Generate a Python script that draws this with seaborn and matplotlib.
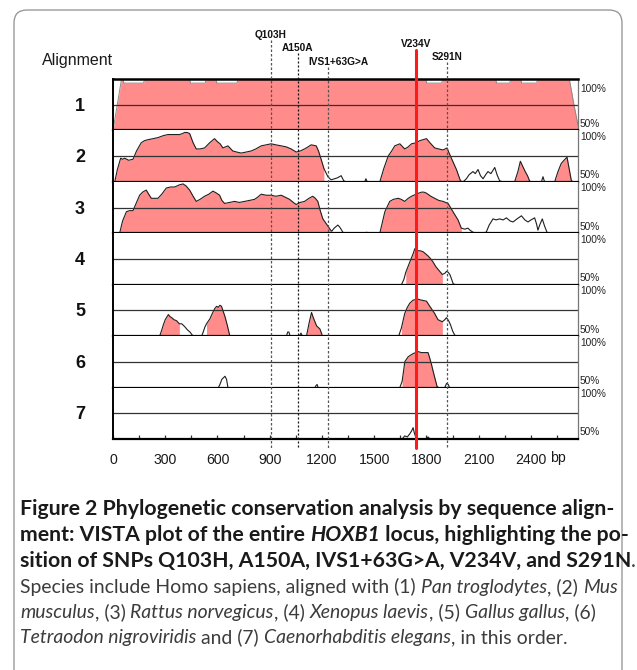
#!/usr/bin/env python3

import numpy as np
import matplotlib
matplotlib.use("Agg")
import matplotlib.pyplot as plt
import matplotlib.transforms as mtransforms
from matplotlib.lines import Line2D
from matplotlib.patches import FancyBboxPatch
from matplotlib.ticker import MultipleLocator
import seaborn as sns

# ---- data (bp position, % identity) ----
PANEL_LABELS = ["1", "2", "3", "4", "5", "6", "7"]

pos_1 = [0, 48, 57, 62, 176, 181, 440, 445, 530, 535, 591, 596, 712, 717,
         1796, 1801, 1888, 1893, 2197, 2202, 2278, 2283, 2341, 2346, 2433, 2438,
         2620, 2649, 2670]
val_1 = [50, 99, 100, 96, 96, 100, 100, 96, 96, 100, 100, 96, 96, 100,
         100, 96, 96, 100, 100, 96, 96, 100, 100, 96, 96, 100,
         100, 73, 55]

pos_2 = [0, 10, 25, 44, 55, 67, 90, 115, 135, 162, 180, 201, 230, 258, 290, 316, 350,
         382, 400, 411, 425, 440, 460, 478, 500, 526, 555, 583, 600, 615, 631, 660,
         688, 710, 736, 765, 793, 820, 851, 880, 908, 935, 966, 995, 1023, 1052, 1075,
         1100, 1120, 1138, 1167, 1180, 1195, 1211, 1234, 1252, 1272, 1290, 1310, 1325,
         1339, 1400, 1445, 1452, 1460, 1532, 1555, 1580, 1600, 1618, 1647, 1675, 1695,
         1714, 1740, 1761, 1780, 1800, 1820, 1847, 1870, 1895, 1918, 1930, 1943, 1972,
         1995, 2010, 2029, 2045, 2067, 2080, 2096, 2110, 2125, 2140, 2153, 2170, 2192,
         2205, 2220, 2240, 2306, 2325, 2339, 2350, 2367, 2380, 2392, 2400, 2460, 2469,
         2478, 2536, 2555, 2574, 2590, 2607, 2620, 2632, 2645, 2670]
val_2 = [50, 50, 62, 73, 72, 73, 71, 72, 80, 88, 90, 91, 92, 93, 95, 96, 96,
         96, 97, 98, 98, 97, 88, 82, 82, 83, 88, 92, 89, 87, 83, 85,
         80, 79, 78, 79, 80, 82, 85, 86, 87, 86, 85, 84, 82, 79, 80,
         82, 84, 86, 85, 80, 72, 63, 55, 52, 53, 54, 56, 51,
         50, 50, 50, 53, 50, 50, 63, 75, 80, 85, 87, 82, 84,
         87, 88, 90, 91, 92, 88, 83, 82, 81, 83, 78, 73, 62,
         51, 50, 53, 57, 60, 58, 62, 56, 53, 57, 60, 58, 64,
         57, 51, 50, 50, 60, 70, 66, 60, 56, 51, 50, 50, 55,
         50, 50, 60, 68, 71, 74, 62, 51, 50, 50]

pos_3 = [0, 38, 55, 77, 95, 115, 135, 153, 170, 191, 205, 220, 240, 258, 280, 306, 330,
         354, 380, 402, 420, 440, 460, 478, 500, 526, 550, 574, 595, 612, 625, 641,
         670, 698, 725, 756, 785, 813, 830, 851, 880, 908, 935, 966, 990, 1014, 1035,
         1052, 1075, 1100, 1125, 1147, 1162, 1176, 1190, 1205, 1234, 1250, 1256, 1270,
         1291, 1302, 1320, 1335, 1440, 1457, 1470, 1532, 1561, 1589, 1610, 1637, 1655,
         1675, 1695, 1714, 1740, 1771, 1785, 1800, 1825, 1847, 1870, 1895, 1924, 1952,
         1981, 2000, 2020, 2038, 2050, 2067, 2100, 2143, 2160, 2182, 2200, 2220, 2240,
         2259, 2280, 2297, 2320, 2345, 2365, 2383, 2400, 2421, 2432, 2440, 2450, 2465,
         2478, 2492, 2510, 2670]
val_3 = [50, 50, 62, 71, 72, 72, 80, 87, 90, 92, 88, 84, 84, 84, 88, 94, 95,
         95, 97, 98, 96, 92, 86, 81, 83, 86, 88, 91, 89, 87, 82, 79,
         80, 81, 80, 81, 82, 83, 85, 88, 87, 87, 86, 87, 85, 83, 80,
         78, 80, 81, 84, 86, 84, 81, 72, 64, 57, 53, 52, 55,
         58, 56, 51, 50, 50, 51, 50, 50, 71, 81, 83, 84, 83,
         81, 84, 86, 88, 90, 90, 89, 86, 84, 82, 81, 79, 71,
         63, 55, 54, 55, 53, 51, 50, 51, 58, 64, 63, 64, 63,
         65, 62, 61, 64, 67, 63, 61, 63, 65, 59, 53, 58, 64,
         57, 51, 50, 50]

pos_4 = [0, 1650, 1656, 1670, 1681, 1704, 1723, 1733, 1742, 1752, 1765, 1781, 1795,
         1809, 1825, 1838, 1852, 1866, 1891, 1905, 1915, 1925, 1934, 1945, 1953, 1965,
         2670]
val_4 = [50, 50, 50, 55, 62, 72, 80, 85, 84, 83, 83, 82, 80,
         78, 75, 72, 68, 65, 60, 61, 63, 62, 60, 55, 51, 50,
         50]

pos_5 = [0, 265, 270, 280, 289, 300, 318, 327, 337, 350, 365, 381, 395, 413, 428, 442,
         455, 470, 509, 518, 528, 537, 557, 570, 585, 595, 604, 614, 623, 633, 643, 657,
         671, 990, 996, 1003, 1010, 1017, 1070, 1079, 1088, 1111, 1125, 1140, 1150, 1169,
         1188, 1203, 1640, 1656, 1675, 1690, 1704, 1723, 1750, 1771, 1800, 1819, 1835,
         1847, 1866, 1891, 1905, 1915, 1927, 1938, 1950, 1962, 1975, 2670]
val_5 = [50, 50, 51, 56, 61, 66, 71, 69, 68, 66, 65, 62, 62, 59, 56, 54,
         51, 50, 50, 54, 59, 62, 67, 72, 77, 79, 78, 80, 79, 74, 69, 60,
         50, 50, 50, 54, 54, 50, 50, 53, 50, 50, 62, 73, 68, 60,
         57, 50, 50, 58, 72, 78, 82, 85, 86, 85, 84, 79, 75,
         72, 66, 64, 66, 68, 65, 61, 55, 51, 50, 50]

pos_6 = [0, 605, 614, 625, 643, 652, 660, 1160, 1166, 1172, 1178, 1640, 1647, 1660,
         1670, 1675, 1695, 1723, 1752, 1770, 1790, 1809, 1818, 1828, 1838, 1847, 1861,
         1870, 1905, 1915, 1925, 1932, 2670]
val_6 = [50, 50, 53, 58, 61, 58, 50, 50, 52, 53, 50, 50, 50, 56,
         68, 75, 80, 83, 85, 84, 84, 84, 79, 73, 66, 60, 51,
         50, 50, 54, 53, 50, 50]

pos_7 = [0, 1660, 1675, 1690, 1704, 1715, 1723, 1730, 1738, 1750, 1795, 1809, 1820, 2670]
val_7 = [50, 50, 53, 52, 55, 58, 61, 56, 52, 50, 50, 52, 50, 50]

# conserved regions that VISTA shades pink
fill_1 = [(0, 2670)]
fill_2 = [(0, 1211), (1532, 1995), (2306, 2392), (2536, 2632)]
fill_3 = [(38, 1250), (1532, 2000)]
fill_4 = [(1681, 1891)]
fill_5 = [(270, 381), (537, 671), (1111, 1203), (1645, 1891)]
fill_6 = [(1656, 1861)]
fill_7 = []

SNP_NAMES = ["Q103H", "A150A", "IVS1+63G>A", "V234V", "S291N"]
SNP_POS = [906, 1061, 1234, 1741, 1917]

X_TICKS = [0, 300, 600, 900, 1200, 1500, 1800, 2100, 2400]
X_MAX = 2670

CAPTION = [
    [("Figure 2 Phylogenetic conservation analysis by sequence align-", "bold", "normal")],
    [("ment: VISTA plot of the entire ", "bold", "normal"), ("HOXB1", "bold", "italic"),
     (" locus, highlighting the po-", "bold", "normal")],
    [("sition of SNPs Q103H, A150A, IVS1+63G>A, V234V, and S291N", "bold", "normal"),
     (".", "normal", "normal")],
    [("Species include Homo sapiens, aligned with (1) ", "normal", "normal"),
     ("Pan troglodytes", "normal", "italic"), (", (2) ", "normal", "normal"),
     ("Mus", "normal", "italic")],
    [("musculus", "normal", "italic"), (", (3) ", "normal", "normal"),
     ("Rattus norvegicus", "normal", "italic"), (", (4) ", "normal", "normal"),
     ("Xenopus laevis", "normal", "italic"), (", (5) ", "normal", "normal"),
     ("Gallus gallus", "normal", "italic"), (", (6)", "normal", "normal")],
    [("Tetraodon nigroviridis", "normal", "italic"), (" and (7) ", "normal", "normal"),
     ("Caenorhabditis elegans", "normal", "italic"), (", in this order.", "normal", "normal")],
]

W, H = 637, 670
PINK = "#ff8b8b"
ARIAL = "Liberation Sans"
CAP_FONT = "Lato"


def fy(y):
    # pixel row from top -> figure fraction
    return 1 - y / H


def text_width(fig, renderer, s, **kw):
    t = fig.text(0, 0, "|" + s + "|", **kw)
    w = t.get_window_extent(renderer).width
    t.remove()
    t = fig.text(0, 0, "||", **kw)
    w -= t.get_window_extent(renderer).width
    t.remove()
    return w


def draw_caption(fig):
    renderer = fig.canvas.get_renderer()

    def line_width(line, size):
        return sum(text_width(fig, renderer, s, fontsize=size, fontweight=wt,
                              fontstyle=st, family=CAP_FONT) for s, wt, st in line)

    # fit bold block to first line width, regular block to fourth line
    bold_size = 12 * 592 / line_width(CAPTION[0], 12)
    reg_size = 12 * 596 / line_width(CAPTION[3], 12)
    baselines = [515, 541, 567, 593, 618, 643]
    for i, line in enumerate(CAPTION):
        size = bold_size if i < 3 else reg_size
        x = 20.0
        for s, wt, st in line:
            color = "#1a1a1a" if wt == "bold" else "#3c3c3c"
            fig.text(x / W, fy(baselines[i]), s, fontsize=size, fontweight=wt,
                     fontstyle=st, family=CAP_FONT, color=color, va="baseline")
            x += text_width(fig, renderer, s, fontsize=size, fontweight=wt,
                            fontstyle=st, family=CAP_FONT)


def main():
    sns.set_style("white")
    plt.rcParams["font.family"] = [ARIAL, "DejaVu Sans"]

    fig = plt.figure(figsize=(W / 100, H / 100), dpi=100)
    gs = fig.add_gridspec(7, 1, left=113 / W, right=578 / W, top=fy(79),
                          bottom=fy(439), hspace=0)

    positions = [pos_1, pos_2, pos_3, pos_4, pos_5, pos_6, pos_7]
    values = [val_1, val_2, val_3, val_4, val_5, val_6, val_7]
    fills = [fill_1, fill_2, fill_3, fill_4, fill_5, fill_6, fill_7]

    axes = []
    for i in range(7):
        ax = fig.add_subplot(gs[i])
        axes.append(ax)
        x = np.array(positions[i], dtype=float)
        y = np.array(values[i], dtype=float)
        for a, b in fills[i]:
            mask = (x >= a) & (x <= b)
            ax.fill_between(x, 50, y, where=mask, color=PINK, lw=0, zorder=1)
        line_color = "#8a8a8a" if i == 0 else "#1f1f1f"
        sns.lineplot(x=x, y=y, ax=ax, color=line_color, lw=0.7 if i == 0 else 0.8,
                     estimator=None, sort=False, zorder=2)
        ax.axhline(75, color="#333333", lw=0.9, zorder=3)
        ax.set_xlim(0, X_MAX)
        ax.set_ylim(50, 100)
        ax.set_yticks([])
        ax.set_xlabel("")
        ax.set_ylabel("")
        for side in ["top", "bottom", "left", "right"]:
            ax.spines[side].set_visible(True)
        ax.spines["top"].set_visible(i == 0)
        ax.spines["top"].set_linewidth(1.8)
        ax.spines["top"].set_color("black")
        ax.spines["bottom"].set_linewidth(1.6)
        ax.spines["bottom"].set_color("black")
        ax.spines["left"].set_linewidth(1.4)
        ax.spines["left"].set_color("black")
        ax.spines["right"].set_linewidth(0.9)
        ax.spines["right"].set_color("#777777")
        for sp in ax.spines.values():
            sp.set_zorder(4)

        ax.text(-0.071, 0.47, PANEL_LABELS[i], transform=ax.transAxes, ha="center",
                va="center", fontsize=13, fontweight="bold", color="#111111")
        ax.text(1.004, 0.97 if i else 0.90, "100%", transform=ax.transAxes, ha="left",
                va="top", fontsize=7.3, color="#222222")
        ax.text(1.004, 0.03, "50%", transform=ax.transAxes, ha="left",
                va="bottom", fontsize=7.3, color="#222222")

        if i < 6:
            ax.set_xticks([])
        else:
            ax.set_xticks(X_TICKS)
            ax.set_xticklabels([str(t) for t in X_TICKS])
            ax.xaxis.set_minor_locator(MultipleLocator(150))
            ax.tick_params(axis="x", which="both", direction="in", length=3,
                           width=0.9, color="#333333", bottom=True, top=False,
                           labelsize=10.2, labelcolor="#1a1a1a", pad=10)
            bp_trans = mtransforms.blended_transform_factory(ax.transData, fig.transFigure)
            ax.text(2553, fy(462), "bp", transform=bp_trans, ha="center",
                    fontsize=10.2, color="#1a1a1a")

    # SNP markers spanning all panels
    trans = mtransforms.blended_transform_factory(axes[-1].transData, fig.transFigure)
    snp_style = {
        "Q103H": dict(top=40, color="#555555", dashes=(2.0, 1.6), lw=0.9,
                      lx=906, ly=35),
        "A150A": dict(top=53, color="#111111", dashes=(1.6, 1.6), lw=0.9,
                      lx=1061, ly=48),
        "IVS1+63G>A": dict(top=67, color="#555555", dashes=(2.0, 1.6), lw=0.9,
                           lx=1293, ly=62),
        "V234V": dict(top=50, color="#ff1a1a", dashes=None, lw=2.2,
                      lx=1738, ly=44),
        "S291N": dict(top=62, color="#555555", dashes=(2.0, 1.6), lw=0.9,
                      lx=1917, ly=57),
    }
    for name, p in zip(SNP_NAMES, SNP_POS):
        st = snp_style[name]
        line = Line2D([p, p], [fy(st["top"]), fy(448)], transform=trans,
                      color=st["color"], lw=st["lw"], clip_on=False, zorder=10)
        if st["dashes"]:
            line.set_dashes(st["dashes"])
        fig.add_artist(line)
        fig.text(st["lx"], fy(st["ly"]), name, transform=trans, fontsize=7.3,
                 fontweight="bold", ha="center", va="center", color="#111111")

    fig.text(42 / W, fy(60), "Alignment", fontsize=11.5, ha="left", va="center",
             color="#1a1a1a")

    frame = FancyBboxPatch((14, -40), 608, H - 10 + 40,
                           boxstyle="round,pad=0,rounding_size=13",
                           transform=mtransforms.IdentityTransform(),
                           fill=False, edgecolor="#9a9a9a", lw=1.0)
    fig.add_artist(frame)

    draw_caption(fig)

    fig.savefig("out.png", dpi=100)
    plt.close(fig)


if __name__ == "__main__":
    main()
